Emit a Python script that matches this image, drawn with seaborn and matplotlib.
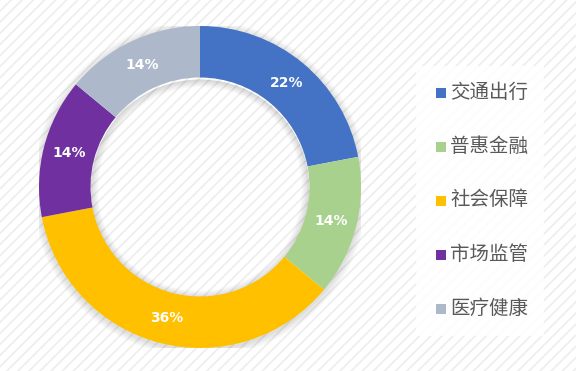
import matplotlib
matplotlib.use("Agg")
import matplotlib.pyplot as plt
import seaborn as sns
from matplotlib.patches import Rectangle, Wedge

categories = ['交通出行', '普惠金融', '社会保障', '市场监管', '医疗健康']
shares = [22, 14, 36, 14, 14]
colors = ['#4472C4', '#A9D18E', '#FFC000', '#7030A0', '#ADB9CA']

sns.set_style('white')
plt.rcParams['font.family'] = ['Noto Sans CJK SC', 'DejaVu Sans']
plt.rcParams['hatch.color'] = '#eeeeee'
plt.rcParams['hatch.linewidth'] = 1.3

fig = plt.figure(figsize=(5.76, 3.71), dpi=100)
fig.patch.set_facecolor('white')

# striped background
bg = fig.add_axes([0, 0, 1, 1])
bg.set_axis_off()
bg.add_patch(Rectangle((0, 0), 1, 1, transform=bg.transAxes, facecolor='white',
                       edgecolor='#eeeeee', hatch='///', linewidth=0))

# donut
W, H = 576, 371
cx, cy, r = 200, 187, 161
ax = fig.add_axes([(cx - r) / W, (H - cy - r) / H, 2 * r / W, 2 * r / H])
ax.set_axis_off()

ring = 0.32
# soft shadow around the ring
for i in range(8):
    ax.add_patch(Wedge((0, -0.01), 1.0 + 0.006 * (i + 1), 0, 360, width=0.012 + 0.012 * i,
                       facecolor='black', alpha=0.016, linewidth=0))
for i in range(8):
    ax.add_patch(Wedge((0, -0.012), 1 - ring, 0, 360, width=0.006 * (i + 1),
                       facecolor='black', alpha=0.018, linewidth=0))

wedges, texts, autotexts = ax.pie(
    shares, colors=colors, startangle=90, counterclock=False,
    autopct='%d%%', pctdistance=0.84,
    wedgeprops=dict(width=ring, linewidth=0),
    textprops=dict(color='white', fontsize=10, fontweight='bold', family='DejaVu Sans'))
ax.set_xlim(-1, 1)
ax.set_ylim(-1, 1)

# legend panel
lx0, ly0, lx1, ly1 = 416, 66, 544, 336
bg.add_patch(Rectangle((lx0 / W, 1 - ly1 / H), (lx1 - lx0) / W, (ly1 - ly0) / H,
                       transform=bg.transAxes, facecolor='white', edgecolor='none',
                       alpha=0.85, zorder=2))
for i, (cat, col) in enumerate(zip(categories, colors)):
    y = 93 + 54 * i
    bg.add_patch(Rectangle((436 / W, 1 - (y + 5) / H), 10 / W, 10 / H,
                           transform=bg.transAxes, facecolor=col, edgecolor='none', zorder=3))
    bg.text(450 / W, 1 - (y - 1) / H, cat, transform=bg.transAxes, fontsize=14,
            color='#595959', va='center', ha='left', zorder=3)

fig.savefig('out.png', dpi=100)
